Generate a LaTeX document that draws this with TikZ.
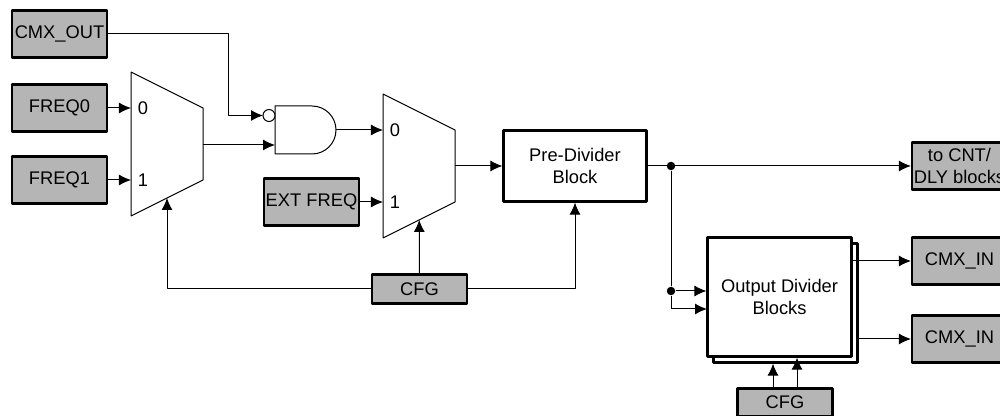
\documentclass[tikz,border=0pt]{standalone}
\usepackage{fontspec}
\setmainfont{Liberation Sans}
\usetikzlibrary{arrows.meta,shapes.geometric}
\tikzset{
  graybox/.style={draw,rectangle,fill=boxgray,line width=2.2bp,minimum width=95bp,minimum height=47bp,inner sep=0pt,align=center},
  whitebox/.style={draw,rectangle,fill=white,line width=2.2bp,inner sep=0pt,align=center},
  mux/.style={draw,trapezium,shape border rotate=270,trapezium stretches=true,trapezium angle=63.43,minimum width=144bp,minimum height=72bp,inner sep=1bp,outer sep=0pt},
  port/.style={inner sep=0pt},
  dot/.style={circle,fill,inner sep=0pt,minimum size=8.5bp},
  gatebody/.style={rectangle,minimum width=61bp,minimum height=48bp,inner sep=0pt,outer sep=0pt},
  bubble/.style={draw,circle,fill=white,inner sep=0pt,minimum size=12bp,outer sep=0pt},
}
\definecolor{boxgray}{HTML}{B5B5B5}
\begin{document}
\begin{tikzpicture}[>={Latex[length=12bp,width=11bp]},line join=bevel,line width=1bp,
  every node/.append style={font=\fontsize{18.3bp}{21.5bp}\selectfont}]
%%
\useasboundingbox (0bp,0bp) rectangle (1000bp,416bp);
\node (cmxout) at (59.5bp,382bp) [graybox] {CMX\_OUT};
  \node (freqa) at (59.5bp,308bp) [graybox] {FREQ0};
  \node (freqb) at (59.5bp,236bp) [graybox] {FREQ1};
  \node (extfreq) at (311.5bp,214bp) [graybox] {EXT FREQ};
  \node (muxa) at (167bp,272bp) [mux] {};
  \node (muxb) at (419bp,250bp) [mux] {};
  \node (gate) at (305.5bp,286bp) [gatebody] {};
  \draw (gate.north west) -- ++(37bp,0bp) arc (90:-90:24bp) -- (gate.south west) -- cycle;
  \node (inv) at (269bp,300.5bp) [bubble] {};
  \node (muxazero) at (143bp,308bp) [port] {0};
  \node (muxaone) at (143bp,236bp) [port] {1};
  \node (muxbzero) at (395bp,286bp) [port] {0};
  \node (muxbone) at (395bp,214bp) [port] {1};
  \node (prediv) at (575bp,250bp) [whitebox,minimum width=143bp,minimum height=71bp] {Pre-Divider\\Block};
  \node (cfgmid) at (419.5bp,127bp) [graybox,minimum height=29bp] {CFG};
  \node (tocnt) at (959.5bp,250bp) [graybox] {to CNT/\\DLY blocks};
  \node (cmxina) at (959.5bp,155bp) [graybox] {CMX\_IN};
  \node (cmxinb) at (959.5bp,77bp) [graybox] {CMX\_IN};
  \node (divback) at (785.5bp,113bp) [whitebox,minimum width=144bp,minimum height=119bp] {};
  \node (divfront) at (779.5bp,119bp) [whitebox,minimum width=144bp,minimum height=119bp] {Output Divider\\Blocks};
  \node (cfglow) at (785bp,13.5bp) [graybox,minimum height=28bp] {CFG};
  \node (dota) at (671bp,250bp) [dot] {};
  \node (dotb) at (671bp,125bp) [dot] {};
  \coordinate (bendcmx) at (228bp,382bp);
  \coordinate (gatein) at (275bp,271bp);
  \coordinate (divin) at (707bp,107bp);
%%
  \draw [->] (cmxout) -- (bendcmx) |- (inv);
  \draw [->] (freqa) -- (muxa.west |- freqa);
  \draw [->] (freqb) -- (muxa.west |- freqb);
  \draw [->] (extfreq) -- (muxb.west |- extfreq);
  \draw [->] (muxa.east |- gatein) -- (gatein);
  \draw [->] (gate.east) -- (gate.east -| muxb.west);
  \draw [->] (muxb.east) -- (prediv);
  \draw [->] (cfgmid) -| (muxa);
  \draw [->] (cfgmid) -- (muxb);
  \draw [->] (cfgmid) -| (prediv);
  \draw [->] (prediv) -- (tocnt);
  \draw (dota) -- (dotb);
  \draw [->] (dotb) -- (divfront.west |- dotb);
  \draw [->] (dotb) |- (divin);
  \draw [->] (divfront.east |- cmxina) -- (cmxina);
  \draw [->] (divback.east |- cmxinb) -- (cmxinb);
  \draw [->] ([xshift=-12bp]cfglow.north) -- ([xshift=-12bp]cfglow.north |- divback.south);
  \draw [->] ([xshift=12bp]cfglow.north) -- ([xshift=12bp]cfglow.north |- divfront.south);
%
\end{tikzpicture}
\end{document}
